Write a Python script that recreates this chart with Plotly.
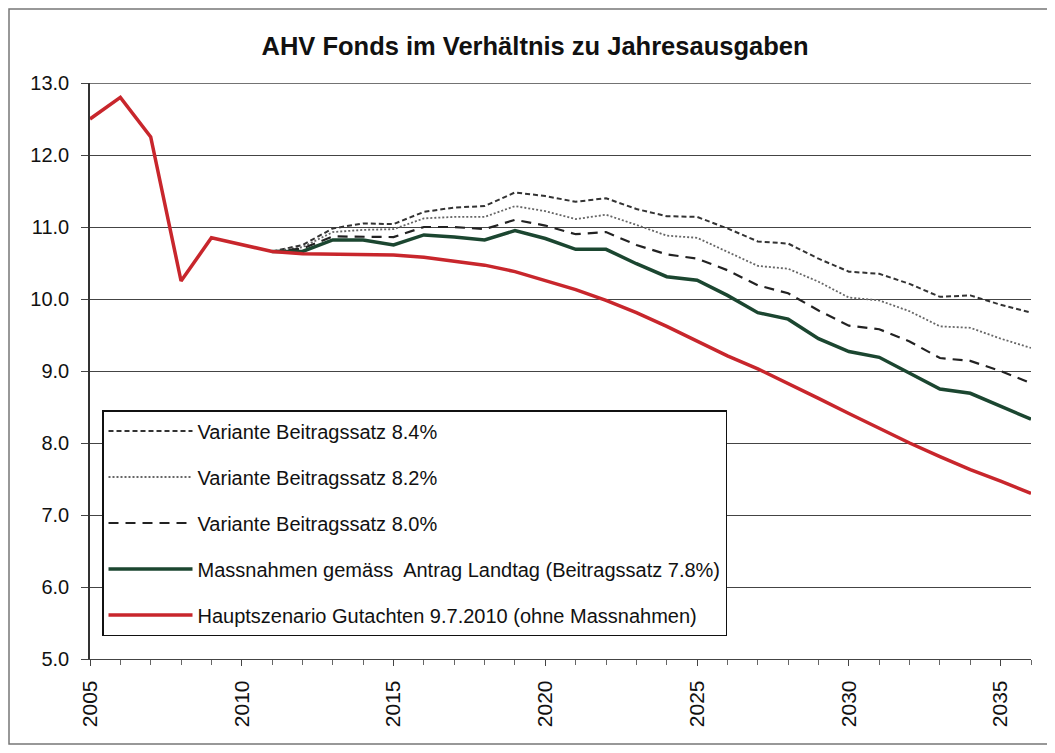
import plotly.graph_objects as go

years = list(range(2005, 2037))
years_var = list(range(2011, 2037))

haupt = [12.5, 12.8, 12.25, 10.25, 10.85, 10.75, 10.66, 10.63, 10.62, 10.62, 10.61, 10.58,
         10.53, 10.47, 10.38, 10.26, 10.13, 9.98, 9.81, 9.62, 9.42, 9.21, 9.03, 8.83,
         8.62, 8.41, 8.2, 8.0, 7.81, 7.63, 7.47, 7.3]
massnahmen = [10.66, 10.66, 10.82, 10.82, 10.75, 10.89, 10.86, 10.82, 10.95, 10.84, 10.69, 10.69,
              10.49, 10.31, 10.26, 10.05, 9.81, 9.72, 9.45, 9.27, 9.19, 8.97, 8.75, 8.69, 8.51, 8.33]
var84 = [10.66, 10.75, 10.98, 11.05, 11.04, 11.21, 11.27, 11.29, 11.48, 11.43, 11.35, 11.4,
         11.25, 11.15, 11.14, 10.98, 10.8, 10.77, 10.56, 10.38, 10.35, 10.21, 10.03, 10.05, 9.92, 9.81]
var82 = [10.66, 10.72, 10.93, 10.96, 10.97, 11.12, 11.14, 11.14, 11.29, 11.22, 11.11, 11.17,
         11.03, 10.88, 10.85, 10.66, 10.46, 10.42, 10.24, 10.02, 9.98, 9.83, 9.62, 9.6, 9.45, 9.32]
var80 = [10.66, 10.7, 10.87, 10.87, 10.86, 11.0, 11.0, 10.97, 11.1, 11.02, 10.9, 10.93,
         10.75, 10.62, 10.56, 10.4, 10.19, 10.08, 9.84, 9.63, 9.58, 9.41, 9.18, 9.14, 9.0, 8.83]

names = [
    "Variante Beitragssatz 8.4%",
    "Variante Beitragssatz 8.2%",
    "Variante Beitragssatz 8.0%",
    "Massnahmen gemäss  Antrag Landtag (Beitragssatz 7.8%)",
    "Hauptszenario Gutachten 9.7.2010 (ohne Massnahmen)",
]

x_ticks = [2005, 2010, 2015, 2020, 2025, 2030, 2035]

FONT = "Liberation Sans, Arial, sans-serif"

fig = go.Figure()
fig.add_trace(go.Scatter(x=years_var, y=var84, mode="lines", name=names[0], legendgroup="a",
                         line=dict(color="#333333", width=2, dash="5px,3px")))
fig.add_trace(go.Scatter(x=years_var, y=var82, mode="lines", name=names[1], legendgroup="b",
                         line=dict(color="#666666", width=1.8, dash="2px,2px")))
fig.add_trace(go.Scatter(x=years_var, y=var80, mode="lines", name=names[2], legendgroup="c",
                         line=dict(color="#222222", width=2.2, dash="10px,7px")))
fig.add_trace(go.Scatter(x=years_var, y=massnahmen, mode="lines", name=names[3], legendgroup="d",
                         line=dict(color="#1b4630", width=3.5)))
fig.add_trace(go.Scatter(x=years, y=haupt, mode="lines", name=names[4], legendgroup="e",
                         line=dict(color="#c8262c", width=3.5)))

OFF = 8  # page body margin
W, H = 1055 - 2 * OFF, 753 - 2 * OFF
L, R, T, B = 90 - OFF, 1031 - OFF, 83 - OFF, 659 - OFF
pw, ph = R - L, B - T

def px(xp):
    return (xp - OFF - L) / pw

def py(yp):
    return (B - (yp - OFF)) / ph

fig.update_layout(
    width=W, height=H,
    margin=dict(l=L, r=W - R, t=T, b=H - B, autoexpand=False),
    paper_bgcolor="white", plot_bgcolor="white",
    font=dict(family=FONT, color="#111111"),
    title=dict(text="<b>AHV Fonds im Verhältnis zu Jahresausgaben</b>",
               font=dict(size=25.5, family=FONT, color="#111111"),
               x=px(535), xref="paper", xanchor="center",
               y=1 - (46 - OFF) / H, yref="container", yanchor="middle"),
    showlegend=True,
    legend=dict(x=px(102), y=py(410), xanchor="left", yanchor="top",
                bgcolor="white", bordercolor="#111111", borderwidth=1.5,
                font=dict(size=20, family=FONT, color="#111111"),
                tracegroupgap=17, itemwidth=84, traceorder="grouped",
                entrywidth=574, entrywidthmode="pixels"),
    xaxis=dict(range=[2005, 2036], tickvals=x_ticks, ticktext=[str(v) for v in x_ticks],
               tickangle=-90, tickfont=dict(size=21, family=FONT, color="#111111"),
               showgrid=False, zeroline=False,
               showline=True, linecolor="#444444", linewidth=1.2,
               ticks="outside", ticklen=6, tickcolor="#444444",
               minor=dict(dtick=1, tick0=2005, ticks="outside", ticklen=5, tickcolor="#666666"),
               ticklabelstandoff=6),
    yaxis=dict(range=[5, 13], dtick=1, tick0=5, tickformat=".1f",
               tickfont=dict(size=20, family=FONT, color="#111111"),
               showgrid=True, gridcolor="#444444", gridwidth=1.4, zeroline=False,
               showline=True, linecolor="#333333", linewidth=1.5,
               ticks="outside", ticklen=7, tickcolor="#444444",
               ticklabelstandoff=8),
    shapes=[
        dict(type="rect", xref="paper", yref="paper",
             x0=px(9), x1=px(1049), y0=py(744), y1=py(9),
             line=dict(color="#777777", width=1.5), layer="below"),
        dict(type="line", xref="paper", yref="y", x0=0, x1=1, y0=13, y1=13,
             line=dict(color="#444444", width=1.4)),
    ],
)

fig.write_html("out.html")
